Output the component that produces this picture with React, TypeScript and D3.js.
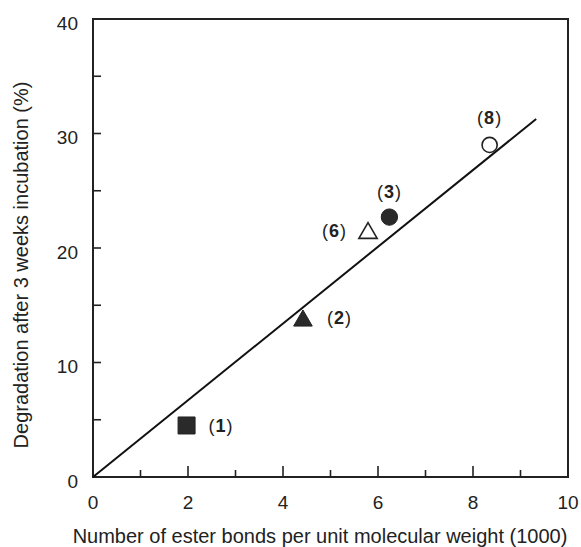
import React from "react";
import * as d3 from "d3";

// Polymer samples: ester bond density vs. degradation after 3 weeks
const sampleIds = ["1", "2", "6", "3", "8"];
const esterBonds = [1.97, 4.42, 5.79, 6.24, 8.35];
const degradation = [4.5, 13.65, 21.3, 22.7, 29.0];
const markerShapes = ["square", "triangle", "triangle", "circle", "circle"];
const markerFilled = [true, true, false, true, false];

// Fitted regression line endpoints
const fitX = [0, 9.33];
const fitY = [0, 31.27];

const xTicks = [0, 2, 4, 6, 8, 10];
const xMinorTicks = [1, 3, 5, 7, 9];
const yTicks = [0, 10, 20, 30, 40];
const yMinorTicks = [5, 15, 25, 35];

const xTitle = "Number of ester bonds per unit molecular weight (1000)";
const yTitle = "Degradation after 3 weeks incubation (%)";

const W = 581;
const H = 547;
const plot = { left: 93, right: 568, top: 19, bottom: 477 };
const FONT = "'Liberation Sans', Arial, Helvetica, sans-serif";

// label placement relative to each marker: [dx, dy, anchor]
const labelPlacement: [number, number, string][] = [
  [22, 0, "start"],
  [24, -3, "start"],
  [-21, -3, "end"],
  [0, -26, "middle"],
  [0, -27, "middle"],
];

export default function App() {
  const x = d3.scaleLinear().domain([0, 10]).range([plot.left, plot.right]);
  const y = d3.scaleLinear().domain([0, 40]).range([plot.bottom, plot.top]);

  const fitLine = d3
    .line<number>()
    .x((_, i) => x(fitX[i]))
    .y((_, i) => y(fitY[i]))(fitX) as string;

  const symbolFor = (shape: string) =>
    shape === "square" ? d3.symbolSquare : shape === "triangle" ? d3.symbolTriangle : d3.symbolCircle;
  const sizeFor = (shape: string, filled: boolean) =>
    shape === "square" ? 17 * 17 : shape === "triangle" ? (filled ? 150 : 145) : filled ? 210 : 180;

  return (
    <svg
      width={W}
      height={H}
      style={{ position: "absolute", left: 0, top: 0, background: "#fff" }}
      fontFamily={FONT}
    >
      <rect x={0} y={0} width={W} height={H} fill="#fff" />
      {/* frame */}
      <rect
        x={plot.left}
        y={plot.top}
        width={plot.right - plot.left}
        height={plot.bottom - plot.top}
        fill="none"
        stroke="#222"
        strokeWidth={2}
      />
      {/* x ticks (inward) */}
      {xTicks.map((t) => (
        <line key={"xt" + t} x1={x(t)} x2={x(t)} y1={plot.bottom} y2={plot.bottom - 11} stroke="#222" strokeWidth={1.6} />
      ))}
      {xMinorTicks.map((t) => (
        <line key={"xm" + t} x1={x(t)} x2={x(t)} y1={plot.bottom} y2={plot.bottom - 7} stroke="#222" strokeWidth={1.6} />
      ))}
      {[...yTicks, ...yMinorTicks].map((t) => (
        <line key={"yt" + t} x1={plot.left} x2={plot.left + 8} y1={y(t)} y2={y(t)} stroke="#222" strokeWidth={1.6} />
      ))}
      {/* tick labels */}
      {xTicks.map((t) => (
        <text key={"xl" + t} x={x(t)} y={509} textAnchor="middle" fontSize={19} fill="#222">
          {t}
        </text>
      ))}
      {yTicks.map((t) => (
        <text key={"yl" + t} x={78} y={y(t) + 10.5} textAnchor="end" fontSize={19} fill="#222">
          {t}
        </text>
      ))}
      {/* axis titles */}
      <text x={320} y={543} textAnchor="middle" fontSize={20} fill="#222">
        {xTitle}
      </text>
      <text
        transform={`translate(27.5, 265) rotate(-90)`}
        textAnchor="middle"
        fontSize={20}
        fill="#222"
      >
        {yTitle}
      </text>
      {/* regression line */}
      <path d={fitLine} fill="none" stroke="#111" strokeWidth={2} />
      {/* markers */}
      {sampleIds.map((id, i) => {
        const shape = markerShapes[i];
        const filled = markerFilled[i];
        const d = d3.symbol().type(symbolFor(shape)).size(sizeFor(shape, filled))() as string;
        return (
          <path
            key={"m" + id}
            d={d}
            transform={`translate(${x(esterBonds[i])}, ${y(degradation[i])})`}
            fill={filled ? "#2a2a2a" : "#fff"}
            stroke="#222"
            strokeWidth={filled ? 1 : 1.6}
          />
        );
      })}
      {/* sample labels */}
      {sampleIds.map((id, i) => {
        const [dx, dy, anchor] = labelPlacement[i];
        return (
          <text
            key={"l" + id}
            x={x(esterBonds[i]) + dx}
            y={y(degradation[i]) + dy + 6.5}
            textAnchor={anchor as any}
            fontSize={18}
            letterSpacing={1}
            fill="#222"
          >
            (<tspan fontWeight="bold">{id}</tspan>)
          </text>
        );
      })}
    </svg>
  );
}
